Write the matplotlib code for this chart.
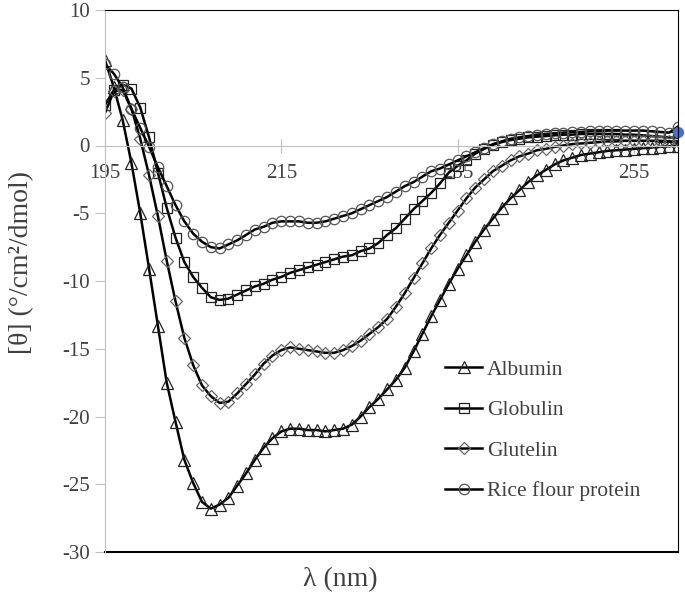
import matplotlib
matplotlib.use('Agg')
import matplotlib.pyplot as plt

# wavelength grid, 1 nm steps
wavelength = list(range(195, 261))

albumin = [6.3, 4.3, 1.9, -1.3, -5.0, -9.1, -13.3, -17.5, -20.4, -23.2,
           -24.9, -26.3, -26.8, -26.5, -26.0, -25.1, -24.2, -23.2, -22.3, -21.6,
           -21.1, -20.9, -20.9, -21.0, -21.0, -21.1, -21.0, -20.9, -20.6, -20.0,
           -19.3, -18.7, -18.0, -17.3, -16.4, -15.2, -13.9, -12.6, -11.4, -10.2,
           -9.1, -8.1, -7.1, -6.2, -5.4, -4.6, -3.9, -3.3, -2.7, -2.2,
           -1.8, -1.4, -1.1, -0.9, -0.7, -0.6, -0.5, -0.4, -0.35, -0.3,
           -0.25, -0.2, -0.15, -0.1, -0.05, 0.0]

globulin = [3.0, 4.1, 4.5, 4.2, 2.8, 0.6, -2.0, -4.6, -6.8, -8.6,
            -9.7, -10.5, -11.2, -11.4, -11.3, -11.0, -10.7, -10.4, -10.2, -9.9,
            -9.7, -9.4, -9.2, -9.0, -8.8, -8.6, -8.4, -8.2, -8.1, -7.8,
            -7.6, -7.2, -6.6, -6.1, -5.4, -4.7, -4.1, -3.5, -2.8, -2.0,
            -1.5, -1.1, -0.6, -0.25, 0.05, 0.25, 0.4, 0.5, 0.6, 0.65,
            0.7, 0.75, 0.8, 0.8, 0.85, 0.85, 0.85, 0.85, 0.85, 0.8,
            0.8, 0.75, 0.7, 0.65, 0.6, 0.55]

glutelin = [2.4, 4.0, 4.1, 2.7, 0.5, -2.2, -5.2, -8.5, -11.5, -14.2,
            -16.2, -17.7, -18.5, -19.0, -18.9, -18.3, -17.6, -16.9, -16.1, -15.5,
            -15.1, -14.9, -15.0, -15.1, -15.2, -15.3, -15.3, -15.1, -14.8, -14.4,
            -13.9, -13.4, -12.8, -11.9, -10.9, -9.8, -8.7, -7.6, -6.6, -5.7,
            -4.8, -3.9, -3.1, -2.5, -1.9, -1.5, -1.1, -0.8, -0.6, -0.35,
            -0.25, -0.1, 0.0, 0.1, 0.15, 0.2, 0.25, 0.3, 0.3, 0.35,
            0.35, 0.35, 0.35, 0.35, 0.3, 0.3]

rice_flour = [6.0, 5.3, 4.3, 2.7, 1.3, -0.1, -1.6, -3.0, -4.4, -5.6,
              -6.5, -7.1, -7.5, -7.6, -7.3, -7.0, -6.6, -6.2, -6.0, -5.7,
              -5.6, -5.6, -5.6, -5.7, -5.7, -5.6, -5.4, -5.2, -5.0, -4.7,
              -4.4, -4.1, -3.8, -3.4, -3.0, -2.7, -2.3, -1.9, -1.7, -1.4,
              -1.1, -0.8, -0.5, -0.2, 0.1, 0.3, 0.5, 0.6, 0.7, 0.8,
              0.85, 0.9, 0.95, 1.0, 1.0, 1.05, 1.05, 1.1, 1.1, 1.1,
              1.1, 1.1, 1.05, 1.0, 0.95, 1.4]

series_labels = ['Albumin', 'Globulin', 'Glutelin', 'Rice flour protein']
highlight_x = [260]
highlight_y = [1.0]

plt.rcParams['font.family'] = ['Liberation Serif', 'DejaVu Serif']
plt.rcParams['axes.unicode_minus'] = False
txt = '#404040'
grey = '#bfbfbf'

fig = plt.figure(figsize=(6.85, 6.03), dpi=100)
ax = fig.add_axes([105 / 685, 51 / 603, 573 / 685, 542 / 603])

styles = [('^', '#222222'), ('s', '#222222'), ('D', '#666666'), ('o', '#555555')]
sizes = [8, 7, 6.5, 7.5]
for ys, lab, (mk, ec), ms in zip([albumin, globulin, glutelin, rice_flour],
                                 series_labels, styles, sizes):
    ax.plot(wavelength, ys, color='black', lw=1.8, marker=mk, ms=ms,
            mfc='none', mec=ec, mew=0.9, label=lab)

ax.plot(highlight_x, highlight_y, 'o', color='#4472c4', ms=7, clip_on=False)

ax.set_xlim(195, 260)
ax.set_ylim(-30, 10)
ax.set_xticks([195, 215, 235, 255])
ax.set_yticks(range(-30, 11, 5))

# x axis drawn along zero, frame on the other sides
ax.spines['bottom'].set_position(('data', 0))
ax.spines['bottom'].set_color(grey)
ax.spines['left'].set_color(grey)
ax.spines['top'].set_color('black')
ax.spines['right'].set_color('black')
ax.plot([0, 1], [0, 0], transform=ax.transAxes, color='black', lw=1.5, clip_on=False)

ax.tick_params(axis='x', direction='inout', length=10, color=grey, labelsize=15,
               labelcolor=txt, pad=8)
ax.tick_params(axis='y', direction='out', length=7, color=grey, labelsize=15,
               labelcolor=txt, pad=4)

ax.set_xlabel('λ (nm)', fontsize=20, color=txt)
ax.xaxis.set_label_coords(0.41, -0.028)
ax.set_ylabel('[θ] (°/cm²/dmol)', fontsize=20, color=txt)
ax.yaxis.set_label_coords(-0.124, 0.535)

leg = ax.legend(loc='upper left', bbox_to_anchor=(0.575, 0.375), frameon=False,
                fontsize=15.5, handlelength=1.7, handletextpad=0.25,
                labelspacing=0.95, borderpad=0)
for t in leg.get_texts():
    t.set_color(txt)

fig.savefig('out.png', dpi=100)
